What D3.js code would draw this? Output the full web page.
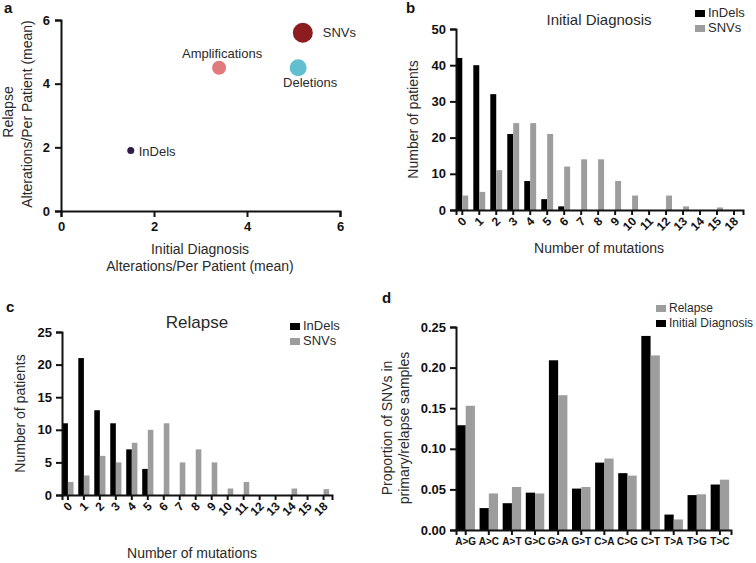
<!DOCTYPE html>
<html><head><meta charset="utf-8">
<script src="https://cdn.jsdelivr.net/npm/d3@7"></script>
</head>
<body style="margin:0;background:#fff;"><svg id="fig" width="756" height="563" style="font-family:'Liberation Sans',Arial,Helvetica,sans-serif;"></svg>
<script>
// ---- Panel a data ----
const aSeries = ["SNVs", "Amplifications", "Deletions", "InDels"];
const aInitial = [5.2, 3.4, 5.1, 1.5];
const aRelapse = [5.6, 4.5, 4.5, 1.9];
const aTicks = [0, 2, 4, 6];

// ---- Panels b/c data ----
const mutCats = ["0","1","2","3","4","5","6","7","8","9","10","11","12","13","14","15","18"];
const bInDels = [42, 40, 32, 21, 8, 3, 1, 0, 0, 0, 0, 0, 0, 0, 0, 0, 0];
const bSNVs   = [4, 5, 11, 24, 24, 21, 12, 14, 14, 8, 4, 0, 4, 1, 0, 0.7, 0];
const bTicks = [0, 10, 20, 30, 40, 50];
const cInDels = [11, 21, 13, 11, 7, 4, 0, 0, 0, 0, 0, 0, 0, 0, 0, 0, 0];
const cSNVs   = [2, 3, 6, 5, 8, 10, 11, 5, 7, 5, 1, 2, 0, 0, 1, 0, 0.9];
const cTicks = [0, 5, 10, 15, 20, 25];

// ---- Panel d data ----
const subCats = ["A>G","A>C","A>T","G>C","G>A","G>T","C>A","C>G","C>T","T>A","T>G","T>C"];
const dInitial = [0.129, 0.027, 0.033, 0.046, 0.209, 0.051, 0.083, 0.070, 0.239, 0.019, 0.043, 0.056];
const dRelapse = [0.153, 0.045, 0.053, 0.045, 0.166, 0.053, 0.088, 0.067, 0.215, 0.013, 0.044, 0.062];
const dTicks = [0, 0.05, 0.10, 0.15, 0.20, 0.25];

const svg = d3.select("#fig");
const BLACK = "#000", GRAY = "#9d9d9d", TXT = "#2a2a2a", AX = "#111";
const FONT = "'Liberation Sans',Arial,Helvetica,sans-serif";

function styleAxis(sel, fs) {
  sel.attr("font-family", FONT);
  sel.selectAll("path.domain").attr("stroke", AX).attr("stroke-width", 2);
  sel.selectAll(".tick line").attr("stroke", AX).attr("stroke-width", 2);
  sel.selectAll(".tick text").attr("fill", "#111").attr("font-weight", "bold").attr("font-size", fs).attr("font-family", FONT);
  return sel;
}
function panelLabel(x, y, t) {
  svg.append("text").attr("x", x).attr("y", y).attr("font-size", 15).attr("font-weight", "bold").attr("fill", "#111").text(t);
}

// ================= Panel a =================
{
  const x = d3.scaleLinear().domain([0, 6]).range([61, 340]);
  const y = d3.scaleLinear().domain([0, 6]).range([211, 20]);
  const g = svg.append("g");
  const xa = g.append("g").attr("transform", "translate(0,211)");
  xa.call(d3.axisBottom(x).tickValues(aTicks).tickFormat(d3.format("d")).tickSizeOuter(0).tickSize(6).tickPadding(5));
  styleAxis(xa, 13);
  const ya = g.append("g").attr("transform", "translate(61,0)");
  ya.call(d3.axisLeft(y).tickValues(aTicks).tickFormat(d3.format("d")).tickSizeOuter(0).tickSize(6).tickPadding(5));
  styleAxis(ya, 13);
  const style = {
    "SNVs": {r: 10, c: "#8c1c1f", dx: 20, dy: 4, anchor: "start"},
    "Amplifications": {r: 7, c: "#e07a7c", dx: 3, dy: -10, anchor: "middle"},
    "Deletions": {r: 8.5, c: "#62bfcf", dx: 12, dy: 19, anchor: "middle"},
    "InDels": {r: 3.5, c: "#2f1b47", dx: 8, dy: 5, anchor: "start"}
  };
  aSeries.forEach((s, i) => {
    const st = style[s];
    g.append("circle").attr("cx", x(aInitial[i])).attr("cy", y(aRelapse[i])).attr("r", st.r).attr("fill", st.c);
    g.append("text").attr("x", x(aInitial[i]) + st.dx).attr("y", y(aRelapse[i]) + st.dy)
      .attr("text-anchor", st.anchor).attr("font-size", 13).attr("fill", TXT).text(s);
  });
  g.append("text").attr("x", 200).attr("y", 254).attr("text-anchor", "middle").attr("font-size", 14).attr("fill", TXT).text("Initial Diagnosis");
  g.append("text").attr("x", 200).attr("y", 271).attr("text-anchor", "middle").attr("font-size", 14).attr("fill", TXT).text("Alterations/Per Patient (mean)");
  g.append("text").attr("transform", "translate(13,112) rotate(-90)").attr("text-anchor", "middle").attr("font-size", 14).attr("fill", TXT).text("Relapse");
  g.append("text").attr("transform", "translate(32,114) rotate(-90)").attr("text-anchor", "middle").attr("font-size", 14).attr("fill", TXT).text("Alterations/Per Patient (mean)");
  panelLabel(4, 13, "a");
}

// ================= Histogram panels b/c =================
function histPanel(opts) {
  const x = d3.scaleBand().domain(mutCats).range([opts.x0, opts.x1]).paddingInner(0.3).paddingOuter(0.1).align(0.1);
  const y = d3.scaleLinear().domain([0, opts.ymax]).range([opts.yb, opts.yt]);
  const g = svg.append("g");
  const bw = x.bandwidth() / 2;
  g.append("g").selectAll("rect").data(mutCats).join("rect")
    .attr("x", d => x(d)).attr("width", bw)
    .attr("y", (d, i) => y(opts.indels[i])).attr("height", (d, i) => y(0) - y(opts.indels[i]))
    .attr("fill", BLACK);
  g.append("g").selectAll("rect").data(mutCats).join("rect")
    .attr("x", d => x(d) + bw).attr("width", bw)
    .attr("y", (d, i) => y(opts.snvs[i])).attr("height", (d, i) => y(0) - y(opts.snvs[i]))
    .attr("fill", GRAY);
  const xa = g.append("g").attr("transform", `translate(0,${opts.yb})`);
  xa.call(d3.axisBottom(x).tickSizeOuter(0).tickSize(5));
  styleAxis(xa, 12);
  xa.selectAll(".tick text").attr("text-anchor", "end")
    .attr("y", 0).attr("dy", 0).attr("transform", "translate(5,12) rotate(-45)");
  const ya = g.append("g").attr("transform", `translate(${opts.x0},0)`);
  ya.call(d3.axisLeft(y).tickValues(opts.ticks).tickSizeOuter(0).tickSize(6).tickPadding(4));
  styleAxis(ya, 13);
  g.append("text").attr("x", opts.tx).attr("y", opts.ty).attr("text-anchor", "middle").attr("font-size", opts.tfs).attr("fill", TXT).text(opts.title);
  g.append("text").attr("x", opts.xtx).attr("y", opts.xty).attr("text-anchor", "middle").attr("font-size", 14).attr("fill", TXT).text("Number of mutations");
  g.append("text").attr("transform", `translate(${opts.ytx},${(opts.yb + opts.yt) / 2}) rotate(-90)`).attr("text-anchor", "middle").attr("font-size", 14).attr("fill", TXT).text("Number of patients");
  [["InDels", BLACK], ["SNVs", GRAY]].forEach((l, i) => {
    g.append("rect").attr("x", opts.lx).attr("y", opts.ly + i * 15).attr("width", 10).attr("height", 7).attr("fill", l[1]);
    g.append("text").attr("x", opts.lx + 13).attr("y", opts.ly + 7 + i * 15).attr("font-size", 13).attr("fill", TXT).text(l[0]);
  });
}
histPanel({x0: 456, x1: 743, yb: 210, yt: 29, ymax: 50, ticks: bTicks, indels: bInDels, snvs: bSNVs,
  title: "Initial Diagnosis", tx: 599, ty: 25, tfs: 15, xtx: 599, xty: 253, ytx: 418, lx: 695, ly: 10});
panelLabel(406, 13, "b");
histPanel({x0: 62, x1: 332, yb: 495, yt: 332, ymax: 25, ticks: cTicks, indels: cInDels, snvs: cSNVs,
  title: "Relapse", tx: 197, ty: 328, tfs: 17, xtx: 192, xty: 558, ytx: 25, lx: 290, ly: 323});
panelLabel(6, 312, "c");

// ================= Panel d =================
{
  const x = d3.scaleBand().domain(subCats).range([456, 731]).paddingInner(0.2).paddingOuter(0.05).align(0.2);
  const y = d3.scaleLinear().domain([0, 0.25]).range([530, 327]);
  const g = svg.append("g");
  const bw = x.bandwidth() / 2;
  g.append("g").selectAll("rect").data(subCats).join("rect")
    .attr("x", d => x(d)).attr("width", bw)
    .attr("y", (d, i) => y(dInitial[i])).attr("height", (d, i) => y(0) - y(dInitial[i])).attr("fill", BLACK);
  g.append("g").selectAll("rect").data(subCats).join("rect")
    .attr("x", d => x(d) + bw).attr("width", bw)
    .attr("y", (d, i) => y(dRelapse[i])).attr("height", (d, i) => y(0) - y(dRelapse[i])).attr("fill", GRAY);
  const xa = g.append("g").attr("transform", "translate(0,530)");
  xa.call(d3.axisBottom(x).tickSizeOuter(0).tickSize(5).tickPadding(3));
  styleAxis(xa, 10);
  const ya = g.append("g").attr("transform", "translate(456,0)");
  ya.call(d3.axisLeft(y).tickValues(dTicks).tickFormat(d3.format(".2f")).tickSizeOuter(0).tickSize(6).tickPadding(4));
  styleAxis(ya, 13);
  g.append("text").attr("transform", "translate(392,428) rotate(-90)").attr("text-anchor", "middle").attr("font-size", 14).attr("fill", TXT).text("Proportion of SNVs in");
  g.append("text").attr("transform", "translate(409,428) rotate(-90)").attr("text-anchor", "middle").attr("font-size", 14).attr("fill", TXT).text("primary/relapse samples");
  [["Relapse", GRAY], ["Initial Diagnosis", BLACK]].forEach((l, i) => {
    g.append("rect").attr("x", 656).attr("y", 305 + i * 15).attr("width", 10).attr("height", 7).attr("fill", l[1]);
    g.append("text").attr("x", 669).attr("y", 312 + i * 15).attr("font-size", 12).attr("fill", TXT).text(l[0]);
  });
  panelLabel(382, 303, "d");
}
</script></body></html>
